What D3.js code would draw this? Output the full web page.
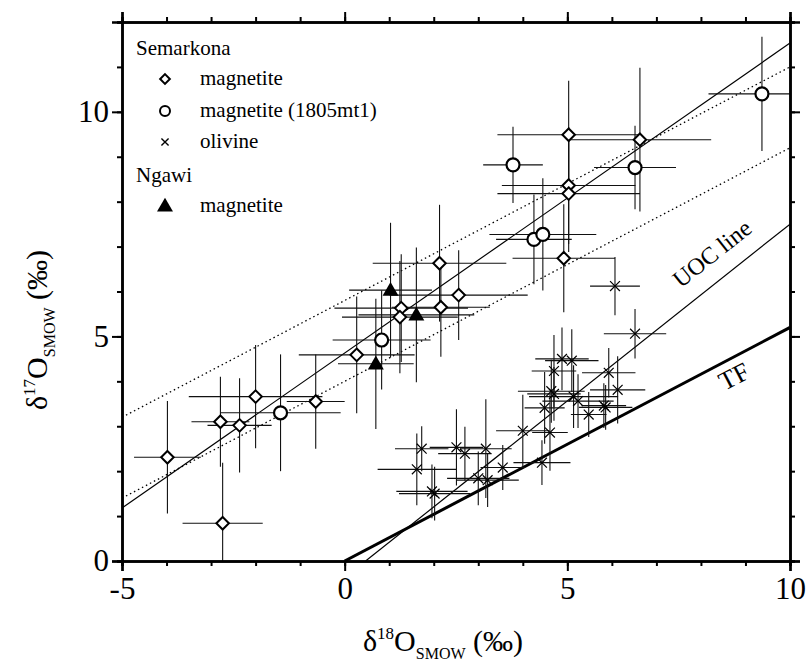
<!DOCTYPE html>
<meta charset="utf-8">
<style>
body { margin: 0; background: #fff; }
.err line { stroke: #111; stroke-width: 1.1px; }
.fit { fill: none; stroke: #000; }
</style>
<body>
<script src="https://d3js.org/d3.v7.min.js"></script>
<script>

// [d18O, d17O, err18, err17]
var semarkonaMagnetite = [
  [-3.98, 2.31, 0.75, 1.25], [-2.74, 0.84, 0.9, 1.35], [-2.79, 3.10, 0.65, 1.0],
  [-2.36, 3.02, 0.72, 1.05], [-2.00, 3.66, 1.5, 1.15], [-0.65, 3.55, 0.65, 1.05],
  [0.27, 4.59, 1.3, 1.3], [1.27, 5.63, 1.5, 1.2], [1.24, 5.43, 1.3, 1.25],
  [2.13, 6.63, 1.5, 1.3], [2.56, 5.92, 1.55, 1.0], [2.16, 5.65, 1.1, 1.1],
  [4.92, 6.74, 1.15, 1.2], [5.03, 8.36, 1.5, 1.3], [5.03, 8.18, 1.6, 1.3],
  [5.03, 9.49, 1.6, 1.2], [6.63, 9.38, 1.6, 1.6]
];
var semarkonaMagnetite1805 = [
  [-1.44, 3.30, 1.35, 1.3], [0.83, 4.92, 1.1, 1.1], [3.78, 8.82, 0.67, 0.85],
  [4.25, 7.16, 0.85, 1.0], [4.45, 7.27, 1.2, 1.25], [6.52, 8.76, 0.92, 0.93],
  [9.37, 10.40, 1.2, 1.27]
];
var semarkonaOlivine = [
  [6.07, 6.12, 0.56, 0.65], [6.52, 5.06, 0.7, 0.55], [4.88, 4.50, 0.6, 0.7],
  [5.10, 4.46, 0.6, 0.7], [4.70, 4.23, 0.5, 0.8], [5.93, 4.19, 0.6, 0.55],
  [6.13, 3.81, 0.62, 0.75], [4.64, 3.78, 0.75, 0.7], [4.70, 3.72, 0.6, 0.6],
  [5.14, 3.66, 1.0, 0.7], [5.24, 3.56, 0.8, 0.6], [4.49, 3.41, 0.45, 0.8],
  [5.82, 3.46, 0.5, 0.5], [5.86, 3.42, 0.6, 0.5], [5.48, 3.26, 0.4, 0.5],
  [4.00, 2.90, 0.6, 0.8], [4.61, 2.86, 0.4, 0.85], [1.73, 2.50, 0.6, 0.5],
  [2.51, 2.53, 0.6, 0.85], [2.70, 2.39, 0.6, 0.6], [3.17, 2.50, 0.58, 1.1],
  [1.62, 2.04, 0.88, 0.8], [3.55, 2.08, 0.5, 0.5], [4.43, 2.19, 0.64, 0.5],
  [3.00, 1.84, 0.7, 0.6], [3.21, 1.80, 0.7, 0.6], [1.96, 1.55, 0.8, 0.6],
  [2.02, 1.50, 0.8, 0.6]
];
var ngawiMagnetite = [
  [0.70, 4.39, 0.85, 1.45], [1.03, 6.03, 0.93, 1.5], [1.61, 5.48, 1.3, 1.5]
];

// reference lines: [slope, intercept, x from, x to]
var fitLine = [0.69, 4.63, -5, 10];
var bandUpper = [0.52, 5.8, -5, 10];
var bandLower = [0.52, 4.0, -5, 10];
var uocLine = [0.787, -0.787 * 0.47, 0.47, 10];
var tfLine = [0.52, 0, 0, 10];

var xDomain = [-5, 10], yDomain = [0, 12];
var xMajor = [-5, 0, 5, 10], yMajor = [0, 5, 10];

var serif = "Liberation Serif";
var width = 808, height = 668;
var mLeft = 122, mRight = 790, mTop = 22, mBottom = 561;

var x = d3.scaleLinear().domain(xDomain).range([mLeft, mRight]);
var y = d3.scaleLinear().domain(yDomain).range([mBottom, mTop]);

var svg = d3.select("body").append("svg")
    .attr("width", width)
    .attr("height", height)
    .attr("font-family", serif);

svg.append("clipPath").attr("id", "plot")
  .append("rect")
    .attr("x", mLeft).attr("y", mTop)
    .attr("width", mRight - mLeft).attr("height", mBottom - mTop);

var plot = svg.append("g").attr("clip-path", "url(#plot)");

function drawLine(p, w, dash) {
  var l = plot.append("line")
      .attr("class", "fit")
      .attr("x1", x(p[2])).attr("y1", y(p[0] * p[2] + p[1]))
      .attr("x2", x(p[3])).attr("y2", y(p[0] * p[3] + p[1]))
      .attr("stroke-width", w);
  if (dash) l.attr("stroke-dasharray", dash);
}
drawLine(bandUpper, 1.3, "1.5,3");
drawLine(bandLower, 1.3, "1.5,3");
drawLine(fitLine, 1.2);
drawLine(uocLine, 1.2);
drawLine(tfLine, 3);

// error bars
var allPoints = semarkonaMagnetite.concat(semarkonaMagnetite1805, semarkonaOlivine, ngawiMagnetite);
var err = plot.append("g").attr("class", "err");
err.selectAll("line.h").data(allPoints).enter().append("line")
    .attr("x1", function(d) { return x(d[0] - d[2]); })
    .attr("x2", function(d) { return x(d[0] + d[2]); })
    .attr("y1", function(d) { return y(d[1]); })
    .attr("y2", function(d) { return y(d[1]); });
err.selectAll("line.v").data(allPoints).enter().append("line")
    .attr("x1", function(d) { return x(d[0]); })
    .attr("x2", function(d) { return x(d[0]); })
    .attr("y1", function(d) { return y(d[1] - d[3]); })
    .attr("y2", function(d) { return y(d[1] + d[3]); });

var diamond = d3.symbol().type(d3.symbolDiamond2);
var cross = d3.symbol().type(d3.symbolTimes);
var triangle = d3.symbol().type(d3.symbolTriangle);

plot.selectAll("path.cross").data(semarkonaOlivine).enter().append("path")
    .attr("transform", function(d) { return "translate(" + x(d[0]) + "," + y(d[1]) + ")"; })
    .attr("d", cross.size(65))
    .attr("fill", "none").attr("stroke", "#000").attr("stroke-width", 1.2);

plot.selectAll("path.dia").data(semarkonaMagnetite).enter().append("path")
    .attr("transform", function(d) { return "translate(" + x(d[0]) + "," + y(d[1]) + ")"; })
    .attr("d", diamond.size(100))
    .attr("fill", "#fff").attr("stroke", "#000").attr("stroke-width", 2);

plot.selectAll("circle.mt").data(semarkonaMagnetite1805).enter().append("circle")
    .attr("cx", function(d) { return x(d[0]); })
    .attr("cy", function(d) { return y(d[1]); })
    .attr("r", 6.5)
    .attr("fill", "#fff").attr("stroke", "#000").attr("stroke-width", 2.2);

plot.selectAll("path.tri").data(ngawiMagnetite).enter().append("path")
    .attr("transform", function(d) { return "translate(" + x(d[0]) + "," + (y(d[1]) + 1) + ")"; })
    .attr("d", triangle.size(110))
    .attr("fill", "#000");

// axes
function ticks(axis, minorVals) {
  return axis.tickValues(minorVals).tickSize(5).tickFormat("");
}
var xMinor = d3.range(-5, 10.01, 1), yMinor = d3.range(0, 12.01, 1);
function serifLabels(g) {
  g.attr("font-family", serif);
  g.selectAll("text").attr("font-size", 31).attr("fill", "#000");
}

svg.append("g").attr("transform", "translate(0," + mBottom + ")")
    .call(ticks(d3.axisBottom(x), xMinor));
svg.append("g").attr("transform", "translate(0," + mBottom + ")")
    .call(d3.axisBottom(x).tickValues(xMajor).tickSize(10).tickPadding(6).tickFormat(String))
    .call(serifLabels);
svg.append("g").attr("transform", "translate(0," + mTop + ")")
    .call(ticks(d3.axisTop(x), xMinor));
svg.append("g").attr("transform", "translate(0," + mTop + ")")
    .call(d3.axisTop(x).tickValues(xMajor).tickSize(10).tickFormat(""));

svg.append("g").attr("transform", "translate(" + mLeft + ",0)")
    .call(ticks(d3.axisLeft(y), yMinor));
svg.append("g").attr("transform", "translate(" + mLeft + ",0)")
    .call(d3.axisLeft(y).tickValues(yMajor).tickSize(10).tickPadding(3).tickFormat(String))
    .call(serifLabels);
svg.append("g").attr("transform", "translate(" + mRight + ",0)")
    .call(ticks(d3.axisRight(y), yMinor));
svg.append("g").attr("transform", "translate(" + mRight + ",0)")
    .call(d3.axisRight(y).tickValues(yMajor).tickSize(10).tickFormat(""));

svg.selectAll(".domain").attr("stroke-width", 2.5).attr("stroke", "#000");
svg.selectAll(".tick line").attr("stroke-width", 2).attr("stroke", "#000");

// axis titles
var xt = svg.append("text").attr("x", 443).attr("y", 651).attr("text-anchor", "middle")
    .attr("font-family", serif).attr("font-size", 30);
xt.append("tspan").text("δ");
xt.append("tspan").attr("font-size", 17).attr("dy", -12).text("18");
xt.append("tspan").attr("dy", 12).text("O");
xt.append("tspan").attr("font-size", 16).attr("dy", 8).text("SMOW");
xt.append("tspan").attr("dy", -8).text(" (‰)");

var yt = svg.append("text").attr("transform", "translate(47,330) rotate(-90)")
    .attr("text-anchor", "middle").attr("font-family", serif).attr("font-size", 30);
yt.append("tspan").text("δ");
yt.append("tspan").attr("font-size", 17).attr("dy", -12).text("17");
yt.append("tspan").attr("dy", 12).text("O");
yt.append("tspan").attr("font-size", 16).attr("dy", 8).text("SMOW");
yt.append("tspan").attr("dy", -8).text(" (‰)");

// line labels
var uocA = -Math.atan(uocLine[0] * (y(0) - y(1)) / (x(1) - x(0))) * 180 / Math.PI;
var tfA = -Math.atan(tfLine[0] * (y(0) - y(1)) / (x(1) - x(0))) * 180 / Math.PI;
svg.append("text").attr("transform", "translate(717,260) rotate(" + uocA + ")")
    .attr("text-anchor", "middle").attr("font-family", serif).attr("font-size", 24).text("UOC line");
svg.append("text").attr("transform", "translate(738,384) rotate(" + tfA + ")")
    .attr("text-anchor", "middle").attr("font-family", serif).attr("font-size", 26).text("TF");

// legend
var legendRows = [
  {label: "Semarkona", head: true, y: 55},
  {label: "magnetite", mark: "diamond", y: 85},
  {label: "magnetite (1805mt1)", mark: "circle", y: 117},
  {label: "olivine", mark: "cross", y: 148},
  {label: "Ngawi", head: true, y: 182},
  {label: "magnetite", mark: "triangle", y: 212}
];
var lg = svg.append("g");
legendRows.forEach(function(r) {
  lg.append("text").attr("x", r.head ? 136 : 200).attr("y", r.y)
      .attr("font-family", serif).attr("font-size", 21).text(r.label);
  var cy = r.y - 6;
  if (r.mark == "diamond") {
    lg.append("path").attr("transform", "translate(165," + cy + ")")
        .attr("d", diamond.size(60)).attr("fill", "#fff").attr("stroke", "#000").attr("stroke-width", 2);
  } else if (r.mark == "circle") {
    lg.append("circle").attr("cx", 165).attr("cy", cy).attr("r", 5)
        .attr("fill", "#fff").attr("stroke", "#000").attr("stroke-width", 2);
  } else if (r.mark == "cross") {
    lg.append("path").attr("transform", "translate(165," + cy + ")")
        .attr("d", cross.size(35)).attr("fill", "none").attr("stroke", "#000").attr("stroke-width", 1.4);
  } else if (r.mark == "triangle") {
    lg.append("path").attr("transform", "translate(165," + (cy + 1) + ")")
        .attr("d", triangle.size(110)).attr("fill", "#000");
  }
});

</script>
</body>
